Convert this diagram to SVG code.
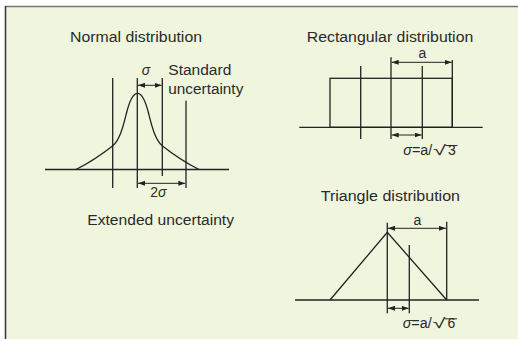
<svg xmlns="http://www.w3.org/2000/svg" width="518" height="339" viewBox="0 0 518 339">
<defs>
<marker id="ah" viewBox="0 0 7 5" refX="7" refY="2.5" markerWidth="7" markerHeight="5" markerUnits="userSpaceOnUse" orient="auto-start-reverse">
<path d="M0,0 L7,2.5 L0,5 z" fill="#222"/>
</marker>
<style>
text{font-family:"Liberation Sans",Arial,Helvetica,sans-serif;font-size:14px;fill:#2a2a2a}
.ln{stroke:#222;stroke-width:1.3;fill:none}
.ar{stroke:#222;stroke-width:1;fill:none;marker-start:url(#ah);marker-end:url(#ah)}
.it{font-style:italic}
</style>
</defs>
<rect x="0" y="0" width="518" height="339" fill="#ffffff"/>
<rect x="5.5" y="6.5" width="513" height="333" fill="#f0f5de"/>
<line x1="5" y1="6.5" x2="518" y2="6.5" stroke="#777" stroke-width="1.5"/>
<line x1="5.5" y1="6" x2="5.5" y2="339" stroke="#333" stroke-width="1.5"/>

<g id="normal">
<text x="70" y="41.7" textLength="132" lengthAdjust="spacingAndGlyphs">Normal distribution</text>
<line class="ln" x1="45" y1="169.5" x2="229" y2="169.5"/>
<path class="ln" d="M137.5,93.3 C142,93.3 145.5,101 148.5,113 C151.5,125 155,140 162.5,146 C172,153.5 186,163 199,169.5 M137.5,93.3 C133,93.3 129.5,101 126.5,113 C123.5,125 120,140 112.5,146 C103,153.5 89,163 76,169.5"/>
<line class="ln" x1="112.7" y1="78" x2="112.7" y2="188"/>
<line class="ln" x1="137.3" y1="78" x2="137.3" y2="188"/>
<line class="ln" x1="162.3" y1="78" x2="162.3" y2="176"/>
<line class="ln" x1="186" y1="100.7" x2="186" y2="188"/>
<text class="it" x="146" y="75" text-anchor="middle">σ</text>
<text x="168.3" y="75.3" textLength="63" lengthAdjust="spacingAndGlyphs">Standard</text>
<text x="168.3" y="93.5" textLength="75" lengthAdjust="spacingAndGlyphs">uncertainty</text>
<text x="158.3" y="197.3" text-anchor="middle">2<tspan class="it">σ</tspan></text>
<text x="87.3" y="225" textLength="146.7" lengthAdjust="spacingAndGlyphs">Extended uncertainty</text>
</g>

<g id="rectangular">
<text x="306.7" y="41.7" textLength="166.6" lengthAdjust="spacingAndGlyphs">Rectangular distribution</text>
<text x="422.3" y="58.3" text-anchor="middle">a</text>
<line class="ln" x1="299.3" y1="127.3" x2="482.7" y2="127.3"/>
<rect class="ln" x="330" y="78.3" width="122.3" height="49"/>
<line class="ln" x1="360.7" y1="66" x2="360.7" y2="139"/>
<line class="ln" x1="391" y1="57.3" x2="391" y2="139"/>
<line class="ln" x1="422.3" y1="66" x2="422.3" y2="139"/>
<line class="ln" x1="452.3" y1="60" x2="452.3" y2="127.3"/>
<text x="403.3" y="155" textLength="29" lengthAdjust="spacingAndGlyphs"><tspan class="it">σ</tspan>=a/</text>
<text x="433" y="155" textLength="13" lengthAdjust="spacingAndGlyphs">√</text>
<text x="448" y="155">3</text>
<line x1="445.5" y1="145.5" x2="457.5" y2="145.5" stroke="#2a2a2a" stroke-width="1"/>
</g>

<g id="triangle">
<text x="320.7" y="200.7" textLength="139.3" lengthAdjust="spacingAndGlyphs">Triangle distribution</text>
<text x="417.3" y="225" text-anchor="middle">a</text>
<line class="ln" x1="295" y1="300" x2="479" y2="300"/>
<path class="ln" d="M330,300 L387.3,232.3 L446.7,300"/>
<line class="ln" x1="387.3" y1="222.7" x2="387.3" y2="313.3"/>
<line class="ln" x1="446.7" y1="221.7" x2="446.7" y2="300"/>
<line class="ln" x1="409.3" y1="245" x2="409.3" y2="313.3"/>
<text x="402.7" y="328.3" textLength="29" lengthAdjust="spacingAndGlyphs"><tspan class="it">σ</tspan>=a/</text>
<text x="432.4" y="328.3" textLength="13" lengthAdjust="spacingAndGlyphs">√</text>
<text x="447.4" y="328.3">6</text>
<line x1="444.9" y1="318.8" x2="456.9" y2="318.8" stroke="#2a2a2a" stroke-width="1"/>
</g>

<g id="connectors">
<line class="ar" x1="138" y1="85.3" x2="161.6" y2="85.3"/>
<line class="ar" x1="138" y1="183.3" x2="185.3" y2="183.3"/>
<line class="ar" x1="391.7" y1="62.3" x2="451.6" y2="62.3"/>
<line class="ar" x1="391.7" y1="135" x2="421.6" y2="135"/>
<line class="ar" x1="388" y1="228.3" x2="446" y2="228.3"/>
<line class="ar" x1="388" y1="308.3" x2="408.6" y2="308.3"/>
</g>
</svg>
